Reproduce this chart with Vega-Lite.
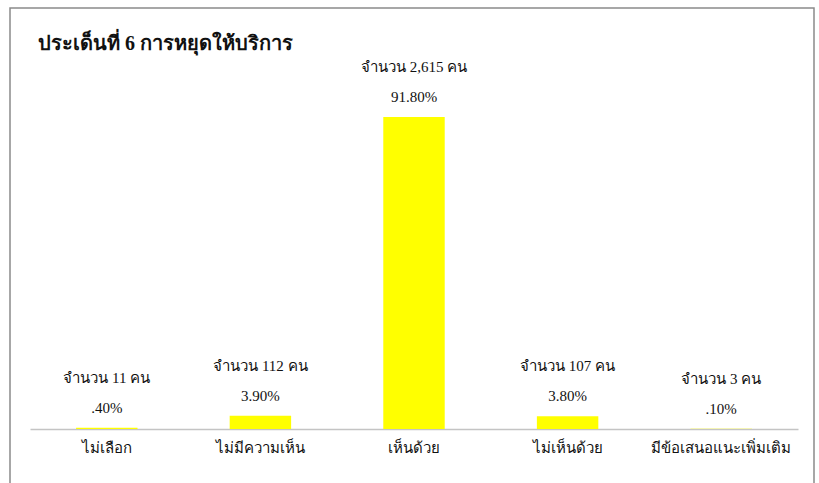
{
  "$schema": "https://vega.github.io/schema/vega-lite/v6.json",
  "autosize": "none",
  "padding": {"left": 10, "top": 8, "right": 5, "bottom": 0},
  "width": 804,
  "height": 480,
  "background": "white",
  "title": {
    "text": "ประเด็นที่ 6 การหยุดให้บริการ",
    "anchor": "start",
    "orient": "top",
    "baseline": "alphabetic",
    "offset": -62,
    "dx": 28,
    "font": "Liberation Serif",
    "fontSize": 20,
    "fontWeight": "bold",
    "color": "#111111"
  },
  "data": {
    "values": [
      {"choice": "ไม่เลือก", "count": 11, "countLabel": "จำนวน 11 คน", "pctLabel": ".40%"},
      {"choice": "ไม่มีความเห็น", "count": 112, "countLabel": "จำนวน 112 คน", "pctLabel": "3.90%"},
      {"choice": "เห็นด้วย", "count": 2615, "countLabel": "จำนวน 2,615 คน", "pctLabel": "91.80%"},
      {"choice": "ไม่เห็นด้วย", "count": 107, "countLabel": "จำนวน 107 คน", "pctLabel": "3.80%"},
      {"choice": "มีข้อเสนอแนะเพิ่มเติม", "count": 3, "countLabel": "จำนวน 3 คน", "pctLabel": ".10%"}
    ]
  },
  "encoding": {
    "x": {
      "field": "choice",
      "type": "nominal",
      "sort": null,
      "scale": {"range": [20, 788], "paddingInner": 0.6, "paddingOuter": 0.3},
      "axis": {
        "title": null,
        "orient": "bottom",
        "offset": -59,
        "labelAngle": 0,
        "ticks": false,
        "domainColor": "#c4c4c4",
        "domainWidth": 1.5,
        "labelPadding": 18,
        "labelBaseline": "middle",
        "labelFont": "Liberation Serif",
        "labelFontSize": 15,
        "labelColor": "#111111"
      }
    },
    "y": {
      "field": "count",
      "type": "quantitative",
      "scale": {"domain": [0, 3000], "range": [421, 63]},
      "axis": null
    }
  },
  "layer": [
    {"mark": {"type": "bar", "color": "#FFFF00"}},
    {
      "mark": {"type": "text", "dy": -20, "baseline": "middle", "font": "Liberation Serif", "fontSize": 15, "color": "#111111"},
      "encoding": {"text": {"field": "pctLabel"}}
    },
    {
      "mark": {"type": "text", "dy": -50, "baseline": "middle", "font": "Liberation Serif", "fontSize": 15, "color": "#111111"},
      "encoding": {"text": {"field": "countLabel"}}
    }
  ],
  "config": {
    "view": {"stroke": "#8a8a8a", "strokeWidth": 1.5}
  }
}
